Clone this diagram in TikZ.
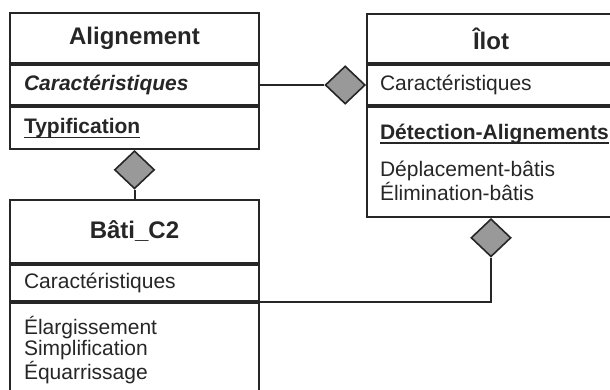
\documentclass[tikz,border=0pt]{standalone}
\usepackage{fontspec}
\setmainfont{Liberation Sans}
\usetikzlibrary{positioning,shapes.geometric}
\definecolor{ink}{gray}{0.15}
\newcommand{\titlefont}{\fontsize{24}{28}\selectfont\bfseries}
\newcommand{\bodyfont}{\fontsize{21}{21.5}\selectfont}
\newcommand{\opul}[1]{\setbox0\hbox{#1}\rlap{\rule[-5pt]{\wd0}{1.6pt}}\box0}

\begin{document}
\begin{tikzpicture}[x=1pt,y=-1pt,
    classtitle/.style={draw=ink,text=ink,line width=2pt,minimum width=249pt,font=\titlefont,inner sep=0pt},
    compart/.style={draw=ink,text=ink,line width=2pt,inner xsep=14pt,inner ysep=0pt,text width=221pt,align=left,font=\bodyfont},
    agg/.style={diamond,draw=ink,line width=1.6pt,fill=black!40,minimum width=40pt,minimum height=38pt,inner sep=0pt},
    link/.style={draw=ink,line width=2pt}]
    \useasboundingbox (0,0) rectangle (610,390);
    \clip (0,0) rectangle (610,390);
    \node[classtitle,minimum height=50pt,anchor=north west] (alignTitle) at (9,12) {Alignement};
    \node[compart,minimum height=40pt,below=0pt of alignTitle] (alignAttr) {\textbf{\textit{Caractéristiques}}};
    \node[compart,minimum height=42pt,below=0pt of alignAttr] (alignOps) {\opul{\bfseries Typification}};
    \node[classtitle,minimum height=63pt,anchor=north west] (batiTitle) at (9,199) {Bâti\_C2};
    \node[compart,minimum height=36pt,below=0pt of batiTitle] (batiAttr) {Caractéristiques};
    \node[compart,minimum height=94pt,below=0pt of batiAttr] (batiOps) {Élargissement\\Simplification\\Équarrissage};
    \node[classtitle,minimum width=248pt,minimum height=49pt,anchor=north west] (ilotTitle) at (366,13) {Îlot};
    \node[compart,inner xsep=13pt,text width=222pt,minimum height=40pt,below=0pt of ilotTitle] (ilotAttr) {Caractéristiques};
    \node[compart,inner xsep=13pt,text width=222pt,minimum height=110pt,below=0pt of ilotAttr] (ilotOps) {\opul{\bfseries Détection-Alignements}\\[16pt]Déplacement-bâtis\\Élimination-bâtis};
    \node[agg,below=0pt of alignOps] (dAB) {};
    \node[agg,left=0pt of ilotAttr] (dAI) {};
    \node[agg,below=0pt of ilotOps] (dIB) {};
    \draw[link] (dAB.south) -- (batiTitle.north);
    \draw[link] (dAI.west) -- (dAI.west -| alignAttr.east);
    \draw[link] (dIB.south) |- (batiAttr.south east);
\end{tikzpicture}
\end{document}
